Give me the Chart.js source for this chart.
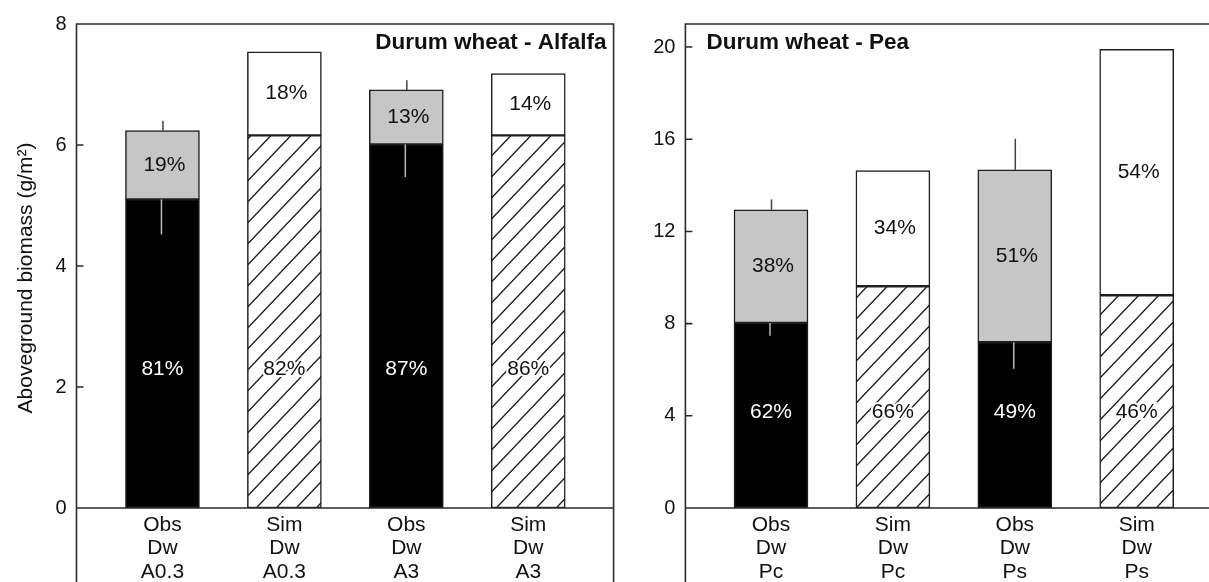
<!DOCTYPE html>
<html>
<head>
	<meta charset="utf-8">
	<title>Aboveground biomass - intercrops</title>
	<script src="https://cdn.jsdelivr.net/npm/chart.js@4.4.1/dist/chart.umd.min.js"></script>
	<style>
		body { margin: 0; background: #fff; }
		#wrap { position: relative; width: 1209px; height: 582px; }
		.panel { position: absolute; top: 0; height: 582px; }
		#left { left: 0; width: 640px; }
		#right { left: 640px; width: 569px; }
	</style>
</head>
<body>
	<div id="wrap">
		<div class="panel" id="left"><canvas id="chartA"></canvas></div>
		<div class="panel" id="right"><canvas id="chartP"></canvas></div>
	</div>

	<script>
		// values (g/m2)
		const barPos = [1, 2, 3, 4];

		const alfalfaLabels = [['Obs', 'Dw', 'A0.3'], ['Sim', 'Dw', 'A0.3'], ['Obs', 'Dw', 'A3'], ['Sim', 'Dw', 'A3']];
		const alfalfaWheat = [5.10, 6.16, 6.01, 6.16];     // durum wheat part
		const alfalfaLegume = [1.14, 1.38, 0.90, 1.02];    // alfalfa part
		const alfalfaWheatErr = [0.58, null, 0.54, null];
		const alfalfaTotalErr = [0.16, null, 0.16, null];
		const alfalfaWheatPct = ['81%', '82%', '87%', '86%'];
		const alfalfaLegumePct = ['19%', '18%', '13%', '14%'];
		const alfalfaTicks = [0, 2, 4, 6, 8];

		const peaLabels = [['Obs', 'Dw', 'Pc'], ['Sim', 'Dw', 'Pc'], ['Obs', 'Dw', 'Ps'], ['Sim', 'Dw', 'Ps']];
		const peaWheat = [8.03, 9.62, 7.19, 9.23];
		const peaLegume = [4.91, 5.02, 7.48, 10.67];
		const peaWheatErr = [0.56, null, 1.15, null];
		const peaTotalErr = [0.45, null, 1.35, null];
		const peaWheatPct = ['62%', '66%', '49%', '46%'];
		const peaLegumePct = ['38%', '34%', '51%', '54%'];
		const peaTicks = [0, 4, 8, 12, 16, 20];

		const FONT = '"Liberation Sans", Arial, sans-serif';
		Chart.defaults.font.family = FONT;
		Chart.defaults.color = '#111';

		function hatchPattern(ctx) {
			const w = 20, h = 21;
			const c = document.createElement('canvas');
			c.width = w; c.height = h;
			const g = c.getContext('2d');
			g.fillStyle = '#fff';
			g.fillRect(0, 0, w, h);
			g.strokeStyle = '#1a1a1a';
			g.lineWidth = 1.3;
			g.beginPath();
			g.moveTo(-w, 2 * h); g.lineTo(w, 0);
			g.moveTo(0, 2 * h); g.lineTo(2 * w, 0);
			g.moveTo(-w, h); g.lineTo(w, -h);
			g.stroke();
			return ctx.createPattern(c, 'repeat');
		}

		function decor(cfg) {
			return {
				id: 'decor',
				afterDatasetsDraw(chart) {
					const { ctx, chartArea: a, scales: { y } } = chart;
					const low = chart.getDatasetMeta(0).data;
					const up = chart.getDatasetMeta(1).data;
					ctx.save();

					// error bars (one-sided)
					ctx.lineWidth = 1.5;
					low.forEach((bar, i) => {
						if (cfg.wheatErr[i] != null) {
							ctx.strokeStyle = '#b8b8b8';
							ctx.beginPath();
							ctx.moveTo(bar.x - 1, bar.y);
							ctx.lineTo(bar.x - 1, y.getPixelForValue(cfg.wheat[i] - cfg.wheatErr[i]));
							ctx.stroke();
						}
						if (cfg.totalErr[i] != null) {
							const tot = cfg.wheat[i] + cfg.legume[i];
							ctx.strokeStyle = '#444';
							ctx.beginPath();
							ctx.moveTo(up[i].x + 0.5, up[i].y);
							ctx.lineTo(up[i].x + 0.5, y.getPixelForValue(tot + cfg.totalErr[i]));
							ctx.stroke();
						}
					});

					// percentages
					ctx.font = '21px ' + FONT;
					ctx.textAlign = 'center';
					ctx.textBaseline = 'middle';
					low.forEach((bar, i) => {
						const obs = cfg.labels[i][0] === 'Obs';
						const ly = y.getPixelForValue(cfg.lowLabelAt);
						if (obs) {
							ctx.fillStyle = '#fff';
						} else {
							ctx.strokeStyle = '#fff';
							ctx.lineWidth = 4;
							ctx.strokeText(cfg.wheatPct[i], bar.x, ly);
							ctx.fillStyle = '#111';
						}
						ctx.fillText(cfg.wheatPct[i], bar.x, ly);
						ctx.fillStyle = '#111';
						ctx.fillText(cfg.legumePct[i], up[i].x + 2, (up[i].y + up[i].base) / 2);
					});

					// frame
					ctx.strokeStyle = '#2a2a2a';
					ctx.lineWidth = 1.6;
					ctx.beginPath();
					ctx.moveTo(a.left, chart.height);
					ctx.lineTo(a.left, a.top);
					ctx.lineTo(a.right, a.top);
					if (cfg.rightFrame) ctx.lineTo(a.right, chart.height);
					ctx.moveTo(a.left, a.bottom);
					ctx.lineTo(a.right, a.bottom);
					// inward ticks
					cfg.yTicks.forEach(v => {
						const py = y.getPixelForValue(v);
						ctx.moveTo(a.left, py);
						ctx.lineTo(a.left + 7, py);
					});
					ctx.stroke();

					// panel title
					ctx.font = 'bold 22.5px ' + FONT;
					ctx.fillStyle = '#111';
					if (cfg.titleRight) {
						ctx.textAlign = 'right';
						ctx.fillText(cfg.title, a.right - 7, a.top + 19);
					} else {
						ctx.textAlign = 'left';
						ctx.fillText(cfg.title, a.left + 21, a.top + 19);
					}

					// y axis title
					if (cfg.yTitle) {
						ctx.font = '21px ' + FONT;
						ctx.textAlign = 'center';
						ctx.translate(26, (a.top + a.bottom) / 2 + 12);
						ctx.rotate(-Math.PI / 2);
						ctx.fillText(cfg.yTitle, 0, 0);
					}
					ctx.restore();
				}
			};
		}

		function makePanel(id, cfg) {
			const canvas = document.getElementById(id);
			const hatch = hatchPattern(canvas.getContext('2d'));
			const isObs = cfg.labels.map(l => l[0] === 'Obs');

			return new Chart(canvas, {
				type: 'bar',
				data: {
					datasets: [{
						data: barPos.map((x, i) => ({ x: x, y: cfg.wheat[i] })),
						backgroundColor: isObs.map(o => o ? '#000' : hatch),
						borderColor: '#1e1e1e',
						borderWidth: 1.5,
						borderSkipped: false,
						barThickness: 74
					}, {
						data: barPos.map((x, i) => ({ x: x, y: cfg.legume[i] })),
						backgroundColor: isObs.map(o => o ? '#c6c6c6' : '#fff'),
						borderColor: '#1e1e1e',
						borderWidth: 1.5,
						borderSkipped: false,
						barThickness: 74
					}]
				},
				options: {
					responsive: true,
					maintainAspectRatio: false,
					animation: false,
					layout: { padding: { top: 24, right: cfg.padRight, left: 0, bottom: 0 } },
					plugins: { legend: { display: false }, tooltip: { enabled: false } },
					scales: {
						x: {
							type: 'linear',
							stacked: true,
							offset: false,
							min: cfg.xMin,
							max: cfg.xMax,
							grid: { display: false, drawTicks: false },
							border: { display: false },
							afterBuildTicks: s => { s.ticks = barPos.map(v => ({ value: v })); },
							afterFit: s => { s.height = 74; },
							ticks: {
								callback: (v, i) => cfg.labels[i],
								padding: 5,
								maxRotation: 0,
								autoSkip: false,
								font: { size: 21, lineHeight: 1.12 }
							}
						},
						y: {
							stacked: true,
							min: 0,
							max: cfg.yMax,
							grid: { display: false, drawTicks: false },
							border: { display: false },
							afterBuildTicks: s => { s.ticks = cfg.yTicks.map(v => ({ value: v })); },
							afterFit: s => { s.width = cfg.axisWidth; },
							ticks: { padding: 10, font: { size: 20 } }
						}
					}
				},
				plugins: [decor(cfg)]
			});
		}

		makePanel('chartA', {
			labels: alfalfaLabels, wheat: alfalfaWheat, legume: alfalfaLegume,
			wheatErr: alfalfaWheatErr, totalErr: alfalfaTotalErr,
			wheatPct: alfalfaWheatPct, legumePct: alfalfaLegumePct,
			yTicks: alfalfaTicks, yMax: 8, lowLabelAt: 2.3,
			xMin: 0.295, xMax: 4.70, axisWidth: 76.5, padRight: 26.4,
			title: 'Durum wheat - Alfalfa', titleRight: true, rightFrame: true,
			yTitle: 'Aboveground biomass (g/m\u00B2)'
		});

		makePanel('chartP', {
			labels: peaLabels, wheat: peaWheat, legume: peaLegume,
			wheatErr: peaWheatErr, totalErr: peaTotalErr,
			wheatPct: peaWheatPct, legumePct: peaLegumePct,
			yTicks: peaTicks, yMax: 21, lowLabelAt: 4.15,
			xMin: 0.298, xMax: 4.593, axisWidth: 45.4, padRight: 0,
			title: 'Durum wheat - Pea', titleRight: false, rightFrame: false
		});
</script>
</body>
</html>
